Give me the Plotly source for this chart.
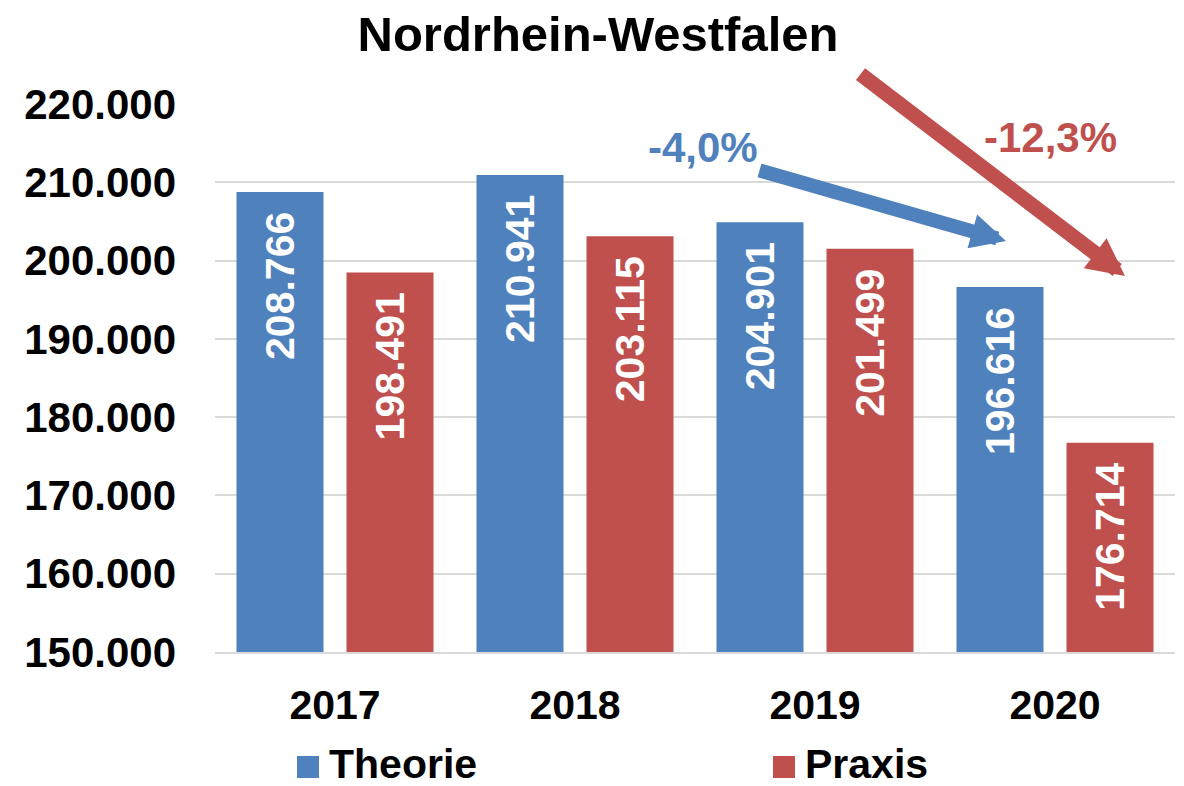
import plotly.graph_objects as go

years = ["2017", "2018", "2019", "2020"]
theorie = [208766, 210941, 204901, 196616]
praxis = [198491, 203115, 201499, 176714]
series_names = ["Theorie", "Praxis"]
colors = ["#4F81BD", "#C0504D"]
title_text = "Nordrhein-Westfalen"
change_labels = ["-4,0%", "-12,3%"]

FONT = "Liberation Sans, Arial, sans-serif"

# page body margin is removed in the page, so the figure fills the 1184x786 window
W, H = 1184, 786
PL, PT, PW, PH = 215, 104, 960, 548   # plot area in pixels


def fmt(v):
    return f"{v:,}".replace(",", ".")


def px(x):   # screen x -> paper
    return (x - PL) / PW


def py(y):   # screen y -> paper
    return (PT + PH - y) / PH


fig = go.Figure()
for name, vals, col in zip(series_names, [theorie, praxis], colors):
    fig.add_trace(go.Bar(x=years, y=vals, name=name, marker=dict(color=col, line=dict(width=0)),
                         showlegend=False))

annotations = []
# data labels inside bars (rotated, near top)
for shift, vals in zip([-55, 55], [theorie, praxis]):
    for i, v in enumerate(vals):
        annotations.append(dict(x=i, y=v, xref="x", yref="y", text="<b>%s</b>" % fmt(v),
                                showarrow=False, textangle=-90, xshift=shift, yshift=-18,
                                xanchor="center", yanchor="top",
                                font=dict(family=FONT, size=41, color="white")))

# trend arrows
annotations.append(dict(x=px(1006), y=py(241), xref="paper", yref="paper", text="", showarrow=True,
                        ax=-248, ay=-71, axref="pixel", ayref="pixel",
                        arrowhead=2, arrowsize=0.5, arrowwidth=14, arrowcolor=colors[0], standoff=0))
annotations.append(dict(x=px(1125), y=py(276), xref="paper", yref="paper", text="", showarrow=True,
                        ax=-266, ay=-203, axref="pixel", ayref="pixel",
                        arrowhead=2, arrowsize=0.5, arrowwidth=15, arrowcolor=colors[1], standoff=0))
annotations.append(dict(x=px(703), y=py(147), xref="paper", yref="paper",
                        text="<b>%s</b>" % change_labels[0], showarrow=False,
                        xanchor="center", yanchor="middle",
                        font=dict(family=FONT, size=42, color=colors[0])))
annotations.append(dict(x=px(1050), y=py(137), xref="paper", yref="paper",
                        text="<b>%s</b>" % change_labels[1], showarrow=False,
                        xanchor="center", yanchor="middle",
                        font=dict(family=FONT, size=42, color=colors[1])))

# manual legend
shapes = []
legend_x = [297, 773]
for lx, name, col in zip(legend_x, series_names, colors):
    shapes.append(dict(type="rect", xref="paper", yref="paper",
                       x0=px(lx), x1=px(lx + 22),
                       y0=py(778), y1=py(756),
                       fillcolor=col, line=dict(width=0)))
    annotations.append(dict(x=px(lx + 30), y=py(764), xref="paper", yref="paper",
                            text="<b>%s</b>" % name, showarrow=False, xanchor="left", yanchor="middle",
                            font=dict(family=FONT, size=41, color="black")))

fig.update_layout(
    width=W, height=H,
    margin=dict(l=PL, r=W - PL - PW, t=PT, b=H - PT - PH, pad=0),
    paper_bgcolor="white", plot_bgcolor="white",
    separators=",.",
    barmode="group", bargap=0.0833, bargroupgap=0.209,
    title=dict(text="<b>%s</b>" % title_text, x=598 / W, xref="container", xanchor="center",
               y=1 - 34 / H, yref="container", yanchor="middle",
               font=dict(family=FONT, size=49, color="black")),
    annotations=annotations, shapes=shapes,
    showlegend=False,
    font=dict(family=FONT, color="black"),
)
fig.update_yaxes(range=[150000, 220000], dtick=10000, tickformat=",d",
                 showgrid=True, gridcolor="#d9d9d9", gridwidth=2, zeroline=False,
                 showline=False, ticks="", ticklabelstandoff=38,
                 tickfont=dict(family=FONT, size=42, color="black", weight="bold"))
fig.update_xaxes(type="category", range=[-0.5, 3.5], showline=True, linecolor="#d9d9d9", linewidth=2,
                 ticks="", ticklabelstandoff=16,
                 tickfont=dict(family=FONT, size=41, color="black", weight="bold"))

fig.write_html("out.html", config={"displayModeBar": False},
               post_script="document.body.style.margin='0';document.body.style.overflow='hidden';")
